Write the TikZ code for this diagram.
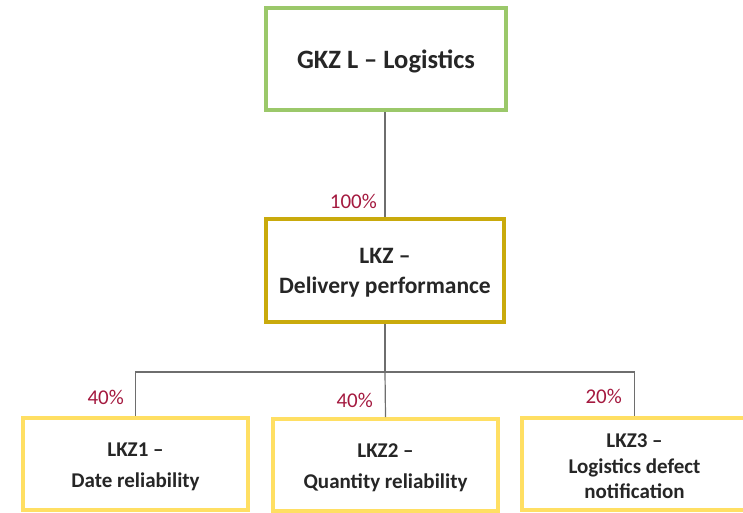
\documentclass[tikz,border=0pt]{standalone}
\usepackage{fontspec}
\setmainfont{Carlito}
\definecolor{gkzgreen}{HTML}{9BC86A}
\definecolor{lkzgold}{HTML}{C9AA0C}
\definecolor{lkzyellow}{HTML}{FFDF63}
\definecolor{pct}{HTML}{A4193F}
\definecolor{conn}{HTML}{6E6E6E}
\definecolor{txt}{HTML}{262626}
\begin{document}
\begin{tikzpicture}[x=1pt,y=-1pt,
  box/.style={draw, line width=4pt, fill=white, inner sep=0pt},
  boxtext/.style={inner sep=0pt, align=center, text=txt, yshift=-2.5pt},
  link/.style={draw=conn, line width=1.2pt},
  pctlabel/.style={text=pct, font=\fontsize{21}{24}\selectfont, anchor=base east, inner sep=0pt}]
\useasboundingbox (0,0) rectangle (743,512);
\clip (0,0) rectangle (743,512);
\node[box, draw=gkzgreen, minimum width=240pt, minimum height=102pt] (top) at (386,59) {};
\node[boxtext, font=\bfseries\fontsize{26.5}{30}\selectfont] (topt) at (top) {GKZ L – Logistics};
\node[box, draw=lkzgold, minimum width=238pt, minimum height=103pt] (mid) at (385,270.5) {};
\node[boxtext, font=\bfseries\fontsize{23.5}{30}\selectfont] (midt) at (mid) {LKZ –\\Delivery performance};
\node[box, draw=lkzyellow, minimum width=225pt, minimum height=92pt] (b1) at (135.5,464) {};
\node[boxtext, font=\bfseries\fontsize{21}{31}\selectfont] (b1t) at (b1) {LKZ1 –\\Date reliability};
\node[box, draw=lkzyellow, minimum width=225pt, minimum height=92pt] (b2) at (385.5,465) {};
\node[boxtext, font=\bfseries\fontsize{21}{31}\selectfont] (b2t) at (b2) {LKZ2 –\\Quantity reliability};
\node[box, draw=lkzyellow, minimum width=225pt, minimum height=92pt] (b3) at (634.5,464) {};
\node[boxtext, font=\bfseries\fontsize{21}{25.5}\selectfont] (b3t) at (b3) {LKZ3 –\\Logistics defect\\notification};
\coordinate (bar) at (385,372);
\draw[link] (top.south -| mid.north) -- (mid.north);
\draw[link] (mid.south) -- (bar);
\draw[link] (b1.north) -- (b1.north |- bar) -- (b3.north |- bar) -- (b3.north);
\draw[link] (bar) -- (b2.north);
\node[pctlabel] (p0) at (377,208) {100\%};
\node[pctlabel] (p1) at (124,404) {40\%};
\node[pctlabel] (p2) at (373,407) {40\%};
\node[pctlabel] (p3) at (622,403) {20\%};
\end{tikzpicture}
\end{document}
